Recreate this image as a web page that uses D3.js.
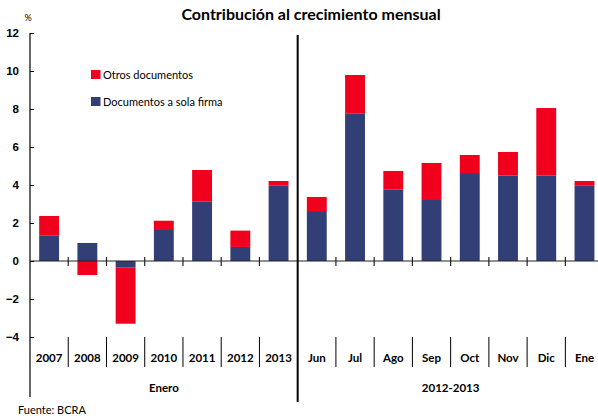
<!DOCTYPE html>
<html>
<head>
<meta charset="utf-8">
<script src="https://cdn.jsdelivr.net/npm/d3@7"></script>
<style>
body{margin:0;background:#fff;}
svg{display:block;font-family:Lato,"Open Sans",sans-serif;}
</style>
</head>
<body>
<svg id="chart" width="598" height="418"></svg>
<script>
// categorias y valores
var categorias = ["2007","2008","2009","2010","2011","2012","2013","Jun","Jul","Ago","Sep","Oct","Nov","Dic","Ene"];
var solaFirma = [1.33,0.95,-0.35,1.68,3.12,0.74,3.96,2.63,7.75,3.75,3.26,4.63,4.49,4.49,3.96];
var otros = [1.04,-0.74,-2.95,0.44,1.67,0.86,0.25,0.74,2.04,0.99,1.90,0.95,1.25,3.56,0.25];
var yTicks = [-4,-2,0,2,4,6,8,10,12];
var grupos = [{label:"Enero",from:0,to:7},{label:"2012-2013",from:7,to:15}];

var rojo = "#f0001c", azul = "#323f77";
var pLeft = 30, pRight = 603.6, pTop = 33, zero = 261;

var svg = d3.select("#chart");

var x = d3.scaleBand().domain(categorias).range([pLeft,pRight]).paddingInner(0.48).paddingOuter(0.24);
var y = d3.scaleLinear().domain([-4,12]).range([zero+76,pTop]);
var step = x.step();

var tabla = categorias.map(function(c,i){ return {cat:c, sola:solaFirma[i], otros:otros[i]}; });
var series = d3.stack().keys(["sola","otros"]).offset(d3.stackOffsetDiverging)(tabla);
var colores = {sola:azul, otros:rojo};

// titulo
svg.append("text").attr("x",311).attr("y",20).attr("text-anchor","middle")
  .attr("font-size",16).attr("font-weight","bold").text("Contribución al crecimiento mensual");
svg.append("text").attr("x",28).attr("y",21).attr("text-anchor","middle")
  .attr("font-size",9).text("%");

// barras
svg.selectAll("g.serie").data(series).enter().append("g").attr("class","serie")
  .attr("fill",function(d){ return colores[d.key]; })
  .selectAll("rect").data(function(d){ return d; }).enter().append("rect")
  .attr("x",function(d){ return x(d.data.cat); })
  .attr("width",x.bandwidth())
  .attr("y",function(d){ return y(Math.max(d[0],d[1])); })
  .attr("height",function(d){ return Math.abs(y(d[0])-y(d[1])); });

// eje y
var yAxis = d3.axisLeft(y).tickValues(yTicks).tickSizeInner(-4).tickSizeOuter(0).tickPadding(11);
var gy = svg.append("g").attr("transform","translate("+pLeft+",0)").call(yAxis);
gy.select(".domain").remove();
gy.selectAll("text").attr("font-size",11.5).attr("font-weight","bold").attr("fill","#000").attr("dx",0);
gy.selectAll("line").attr("stroke","#000");
svg.append("line").attr("x1",pLeft).attr("x2",pLeft).attr("y1",pTop).attr("y2",397).attr("stroke","#000").attr("stroke-width",1.2);

// linea cero
svg.append("line").attr("x1",pLeft).attr("x2",pRight).attr("y1",y(0)).attr("y2",y(0)).attr("stroke","#222").attr("stroke-width",1.2);
var cortes = d3.range(1,categorias.length).filter(function(i){ return i!==7; });
svg.selectAll("line.tk").data(cortes).enter().append("line").attr("class","tk")
  .attr("x1",function(i){ return pLeft+i*step; }).attr("x2",function(i){ return pLeft+i*step; })
  .attr("y1",y(0)-4).attr("y2",y(0)+5).attr("stroke","#222").attr("stroke-width",1.2);

// separador grueso
svg.append("line").attr("x1",pLeft+7*step).attr("x2",pLeft+7*step).attr("y1",35).attr("y2",402)
  .attr("stroke","#000").attr("stroke-width",2);

// etiquetas de categoria
svg.selectAll("line.sep").data(cortes).enter().append("line").attr("class","sep")
  .attr("x1",function(i){ return pLeft+i*step; }).attr("x2",function(i){ return pLeft+i*step; })
  .attr("y1",337).attr("y2",367).attr("stroke","#000").attr("stroke-width",1);
svg.selectAll("text.cat").data(categorias).enter().append("text").attr("class","cat")
  .attr("x",function(d){ return x(d)+x.bandwidth()/2; }).attr("y",362)
  .attr("text-anchor","middle").attr("font-size",11.5).attr("font-weight","bold").text(function(d){ return d; });
svg.selectAll("text.grp").data(grupos).enter().append("text").attr("class","grp")
  .attr("x",function(g){ return pLeft+(g.from+g.to)/2*step; }).attr("y",392)
  .attr("text-anchor","middle").attr("font-size",11.5).attr("font-weight","bold").text(function(g){ return g.label; });

// leyenda
var leyenda = [{label:"Otros documentos",color:rojo},{label:"Documentos a sola firma",color:azul}];
var lg = svg.selectAll("g.ley").data(leyenda).enter().append("g").attr("class","ley")
  .attr("transform",function(d,i){ return "translate(91,"+(70+i*27)+")"; });
lg.append("rect").attr("width",9.5).attr("height",9).attr("fill",function(d){ return d.color; });
lg.append("text").attr("x",12).attr("y",8.5).attr("font-size",11).text(function(d){ return d.label; });

svg.append("text").attr("x",18).attr("y",414).attr("font-size",11).text("Fuente: BCRA");
</script>
</body>
</html>
